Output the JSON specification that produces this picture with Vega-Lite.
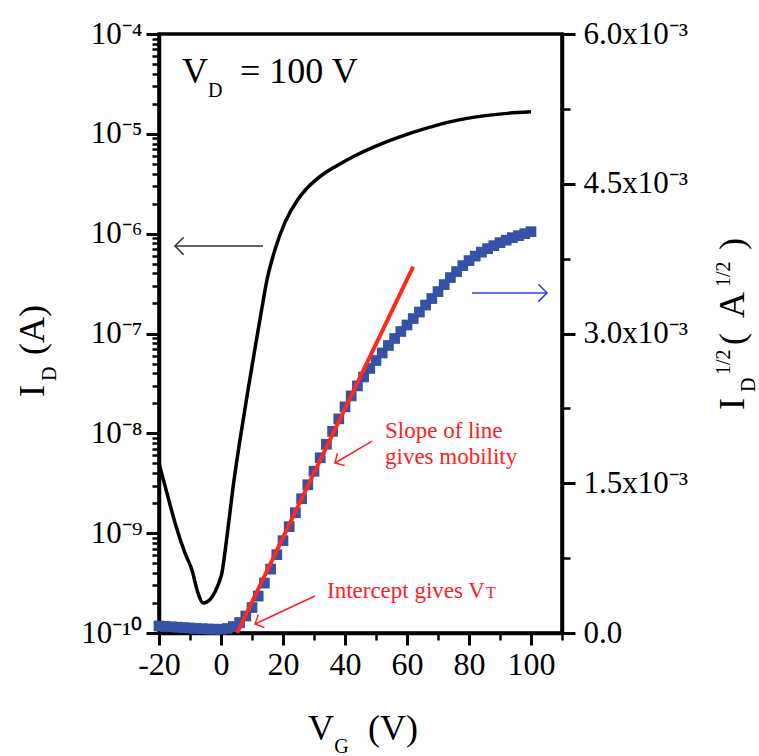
{
  "$schema": "https://vega.github.io/schema/vega-lite/v6.json",
  "width": 403,
  "height": 599,
  "autosize": {"type": "none"},
  "padding": {"left": 159, "top": 34, "right": 197, "bottom": 123},
  "background": "white",
  "config": {
    "font": "Liberation Serif",
    "view": {"stroke": "black", "strokeWidth": 3.5},
    "axis": {
      "grid": false,
      "domainColor": "black",
      "domainWidth": 3.5,
      "tickColor": "black",
      "tickWidth": 3,
      "labelColor": "black",
      "labelFont": "Liberation Serif",
      "labelFontSize": 31,
      "labelFlush": false,
      "labelOverlap": false
    }
  },
  "datasets": {
    "id_log": [
      {"vg": -20, "id": 5.0e-9},
      {"vg": -17.1, "id": 2.3e-9},
      {"vg": -14.8, "id": 1.26e-9},
      {"vg": -11.6, "id": 6.3e-10},
      {"vg": -9.4, "id": 4.3e-10},
      {"vg": -7.4, "id": 2.5e-10},
      {"vg": -5.8, "id": 2.0e-10},
      {"vg": -4.5, "id": 2.05e-10},
      {"vg": -2.9, "id": 2.3e-10},
      {"vg": -1.0, "id": 3.0e-10},
      {"vg": 0.3, "id": 4.0e-10},
      {"vg": 1.9, "id": 9.1e-10},
      {"vg": 3.9, "id": 2.9e-9},
      {"vg": 6.1, "id": 8.5e-9},
      {"vg": 8.7, "id": 2.7e-8},
      {"vg": 11.0, "id": 7.2e-8},
      {"vg": 13.2, "id": 1.8e-7},
      {"vg": 14.8, "id": 3.4e-7},
      {"vg": 17.4, "id": 6.9e-7},
      {"vg": 20.6, "id": 1.29e-6},
      {"vg": 24.8, "id": 2.2e-6},
      {"vg": 27.5, "id": 2.8e-6},
      {"vg": 30.3, "id": 3.4e-6},
      {"vg": 33.5, "id": 4.05e-6},
      {"vg": 36.8, "id": 4.68e-6},
      {"vg": 43.2, "id": 6.03e-6},
      {"vg": 49.0, "id": 7.33e-6},
      {"vg": 55.0, "id": 8.71e-6},
      {"vg": 60.0, "id": 9.89e-6},
      {"vg": 65.0, "id": 1.109e-5},
      {"vg": 70.6, "id": 1.245e-5},
      {"vg": 76.0, "id": 1.365e-5},
      {"vg": 81.3, "id": 1.462e-5},
      {"vg": 86.0, "id": 1.531e-5},
      {"vg": 92.3, "id": 1.603e-5},
      {"vg": 100, "id": 1.66e-5}
    ],
    "sqrt_id": [
      {"vg": -20, "sqrt_id": 0.000070},
      {"vg": -18, "sqrt_id": 0.000066},
      {"vg": -16, "sqrt_id": 0.000062},
      {"vg": -14, "sqrt_id": 0.000058},
      {"vg": -12, "sqrt_id": 0.000054},
      {"vg": -10, "sqrt_id": 0.000050},
      {"vg": -8, "sqrt_id": 0.000046},
      {"vg": -6, "sqrt_id": 0.000043},
      {"vg": -4, "sqrt_id": 0.000040},
      {"vg": -2, "sqrt_id": 0.000038},
      {"vg": 0, "sqrt_id": 0.000037},
      {"vg": 2, "sqrt_id": 0.000045},
      {"vg": 4, "sqrt_id": 0.000065},
      {"vg": 6, "sqrt_id": 0.000105},
      {"vg": 8, "sqrt_id": 0.000170},
      {"vg": 10, "sqrt_id": 0.000255},
      {"vg": 12, "sqrt_id": 0.000370},
      {"vg": 14, "sqrt_id": 0.000500},
      {"vg": 16, "sqrt_id": 0.000640},
      {"vg": 18, "sqrt_id": 0.000785},
      {"vg": 20, "sqrt_id": 0.000925},
      {"vg": 22, "sqrt_id": 0.001065},
      {"vg": 24, "sqrt_id": 0.001205},
      {"vg": 26, "sqrt_id": 0.001345},
      {"vg": 28, "sqrt_id": 0.001485},
      {"vg": 30, "sqrt_id": 0.001620},
      {"vg": 32, "sqrt_id": 0.001755},
      {"vg": 34, "sqrt_id": 0.001890},
      {"vg": 36, "sqrt_id": 0.002020},
      {"vg": 38, "sqrt_id": 0.002145},
      {"vg": 40, "sqrt_id": 0.002265},
      {"vg": 42, "sqrt_id": 0.002375},
      {"vg": 44, "sqrt_id": 0.002475},
      {"vg": 46, "sqrt_id": 0.002565},
      {"vg": 48, "sqrt_id": 0.002650},
      {"vg": 50, "sqrt_id": 0.002730},
      {"vg": 52, "sqrt_id": 0.002805},
      {"vg": 54, "sqrt_id": 0.002880},
      {"vg": 56, "sqrt_id": 0.002950},
      {"vg": 58, "sqrt_id": 0.003020},
      {"vg": 60, "sqrt_id": 0.003085},
      {"vg": 62, "sqrt_id": 0.003150},
      {"vg": 64, "sqrt_id": 0.003215},
      {"vg": 66, "sqrt_id": 0.003285},
      {"vg": 68, "sqrt_id": 0.003350},
      {"vg": 70, "sqrt_id": 0.003420},
      {"vg": 72, "sqrt_id": 0.003490},
      {"vg": 74, "sqrt_id": 0.003560},
      {"vg": 76, "sqrt_id": 0.003620},
      {"vg": 78, "sqrt_id": 0.003680},
      {"vg": 80, "sqrt_id": 0.003730},
      {"vg": 82, "sqrt_id": 0.003775},
      {"vg": 84, "sqrt_id": 0.003815},
      {"vg": 86, "sqrt_id": 0.003850},
      {"vg": 88, "sqrt_id": 0.003880},
      {"vg": 90, "sqrt_id": 0.003910},
      {"vg": 92, "sqrt_id": 0.003935},
      {"vg": 94, "sqrt_id": 0.003960},
      {"vg": 96, "sqrt_id": 0.003980},
      {"vg": 98, "sqrt_id": 0.004000},
      {"vg": 100, "sqrt_id": 0.004020}
    ],
    "fit": [
      {"vg": 5.2, "sqrt_id": 0},
      {"vg": 62.0, "sqrt_id": 0.00367}
    ],
    "arrows": [
      {"arrow": "id", "vg": 13.55, "y": 0.003877, "vg2": -14.84, "y2": 0.003877},
      {"arrow": "sqrt", "vg": 80.97, "y": 0.003406, "vg2": 105.16, "y2": 0.003406},
      {"arrow": "slope", "vg": 48.71, "y": 0.001923, "vg2": 36.77, "y2": 0.001703},
      {"arrow": "vt", "vg": 30.32, "y": 0.000371, "vg2": 10.97, "y2": 0.000090}
    ],
    "text_big": [
      {"vg": -12.58, "y": 0.005509, "label": "V"},
      {"vg": 6.13, "y": 0.005509, "label": "= 100 V"},
      {"vg": 28.06, "y": -0.001072, "label": "V"},
      {"vg": 47.4, "y": -0.001072, "label": "(V)"}
    ],
    "text_small": [
      {"vg": -4.19, "y": 0.005369, "label": "D"},
      {"vg": 36.5, "y": -0.001202, "label": "G"}
    ],
    "text_rot_big": [
      {"vg": -57.1, "y": 0.002364, "label": "I"},
      {"vg": -57.1, "y": 0.002785, "label": "(A)"},
      {"vg": 168.7, "y": 0.002234, "label": "I"},
      {"vg": 168.7, "y": 0.002885, "label": "("},
      {"vg": 168.7, "y": 0.003155, "label": "A"},
      {"vg": 168.7, "y": 0.003837, "label": ")"}
    ],
    "text_rot_small": [
      {"vg": -53.2, "y": 0.002524, "label": "D"},
      {"vg": 172.3, "y": 0.002414, "label": "D"},
      {"vg": 164.2, "y": 0.002584, "label": "1/2"},
      {"vg": 164.2, "y": 0.003466, "label": "1/2"}
    ],
    "text_red": [
      {"vg": 52.9, "y": 0.001953, "label": "Slope of line"},
      {"vg": 52.9, "y": 0.001693, "label": "gives mobility"},
      {"vg": 34.19, "y": 0.000351, "label": "Intercept gives V"}
    ],
    "text_red_small": [
      {"vg": 85.5, "y": 0.000351, "label": "T"}
    ]
  },
  "layer": [
    {
      "data": {"name": "id_log"},
      "layer": [
        {
          "mark": {"type": "line", "color": "black", "strokeWidth": 3.5, "interpolate": "monotone"},
          "encoding": {
            "x": {
              "field": "vg", "type": "quantitative",
              "scale": {"domain": [-20, 110], "nice": false, "zero": false},
              "axis": {
                "title": null,
                "orient": "bottom",
                "values": [-20, 0, 20, 40, 60, 80, 100],
                "labelExpr": "datum.value < 0 ? '-' + format(-datum.value, 'd') : format(datum.value, 'd')",
                "tickSize": 12,
                "labelPadding": 4,
                "labelFontSize": 32
              }
            },
            "y": {
              "field": "id", "type": "quantitative",
              "scale": {"type": "log", "domain": [1e-10, 1e-4], "nice": false},
              "axis": {
                "title": null,
                "orient": "left",
                "values": [1e-10, 1e-9, 1e-8, 1e-7, 1e-6, 1e-5, 1e-4],
                "labelExpr": "datum.value == 1e-4 ? '10⁻⁴' : datum.value == 1e-5 ? '10⁻⁵' : datum.value == 1e-6 ? '10⁻⁶' : datum.value == 1e-7 ? '10⁻⁷' : datum.value == 1e-8 ? '10⁻⁸' : datum.value == 1e-9 ? '10⁻⁹' : '10⁻¹⁰'",
                "tickSize": 13,
                "labelPadding": 4
              }
            }
          }
        },
        {
          "mark": {"type": "line", "strokeOpacity": 0, "color": "black"},
          "encoding": {
            "x": {
              "field": "vg", "type": "quantitative",
              "scale": {"domain": [-20, 110], "nice": false, "zero": false},
              "axis": {
                "title": null,
                "orient": "bottom",
                "values": [-10, 10, 30, 50, 70, 90, 110],
                "labels": false,
                "domain": false,
                "tickSize": 7,
                "tickWidth": 2.5
              }
            },
            "y": {
              "field": "id", "type": "quantitative",
              "scale": {"type": "log", "domain": [1e-10, 1e-4], "nice": false},
              "axis": {
                "title": null,
                "orient": "left",
                "values": [2e-10, 3e-10, 4e-10, 5e-10, 6e-10, 7e-10, 8e-10, 9e-10,
                           2e-9, 3e-9, 4e-9, 5e-9, 6e-9, 7e-9, 8e-9, 9e-9,
                           2e-8, 3e-8, 4e-8, 5e-8, 6e-8, 7e-8, 8e-8, 9e-8,
                           2e-7, 3e-7, 4e-7, 5e-7, 6e-7, 7e-7, 8e-7, 9e-7,
                           2e-6, 3e-6, 4e-6, 5e-6, 6e-6, 7e-6, 8e-6, 9e-6,
                           2e-5, 3e-5, 4e-5, 5e-5, 6e-5, 7e-5, 8e-5, 9e-5],
                "labels": false,
                "domain": false,
                "tickSize": 7,
                "tickWidth": 2.5
              }
            }
          }
        }
      ],
      "resolve": {"axis": {"x": "independent", "y": "independent"}}
    },
    {
      "layer": [
        {
          "data": {"name": "sqrt_id"},
          "mark": {"type": "square", "color": "#3652a6", "opacity": 1, "size": 115},
          "encoding": {
            "x": {"field": "vg", "type": "quantitative", "scale": {"domain": [-20, 110], "nice": false, "zero": false}, "axis": null},
            "y": {
              "field": "sqrt_id", "type": "quantitative",
              "scale": {"domain": [0, 0.006], "nice": false, "zero": false},
              "axis": {
                "title": null,
                "orient": "right",
                "values": [0, 0.0015, 0.003, 0.0045, 0.006],
                "labelExpr": "datum.value == 0 ? '0.0' : format(datum.value * 1000, '.1f') + 'x10⁻³'",
                "tickSize": 13,
                "labelPadding": 8
              }
            }
          }
        },
        {
          "data": {"name": "fit"},
          "mark": {"type": "line", "color": "#ff2a1f", "strokeWidth": 4},
          "encoding": {
            "x": {"field": "vg", "type": "quantitative", "scale": {"domain": [-20, 110], "nice": false, "zero": false}, "axis": null},
            "y": {
              "field": "sqrt_id", "type": "quantitative",
              "scale": {"domain": [0, 0.006], "nice": false, "zero": false},
              "axis": {
                "title": null,
                "orient": "right",
                "values": [0.00075, 0.00225, 0.00375, 0.00525],
                "labels": false,
                "domain": false,
                "tickSize": 8,
                "tickWidth": 2.5
              }
            }
          }
        },
        {
          "data": {"name": "arrows"},
          "mark": {"type": "rule", "strokeWidth": 1.5},
          "encoding": {
            "x": {"field": "vg", "type": "quantitative", "scale": {"domain": [-20, 110], "nice": false, "zero": false}, "axis": null},
            "y": {"field": "y", "type": "quantitative", "scale": {"domain": [0, 0.006], "nice": false, "zero": false}, "axis": null},
            "x2": {"field": "vg2"},
            "y2": {"field": "y2"},
            "color": {"field": "arrow", "type": "nominal", "scale": {"domain": ["id", "sqrt", "slope", "vt"], "range": ["#333333", "#2b3cf0", "#ff2020", "#ff2020"]}, "legend": null}
          }
        },
        {
          "data": {"name": "arrows"},
          "transform": [{"filter": "datum.arrow == 'id'"}],
          "mark": {"type": "point", "shape": "M -1 -1 L 0 0 L -1 1", "filled": false, "color": "#333333", "strokeWidth": 1.5, "size": 300, "angle": 180, "opacity": 1},
          "encoding": {
            "x": {"field": "vg2", "type": "quantitative", "scale": {"domain": [-20, 110], "nice": false, "zero": false}, "axis": null},
            "y": {"field": "y2", "type": "quantitative", "scale": {"domain": [0, 0.006], "nice": false, "zero": false}, "axis": null}
          }
        },
        {
          "data": {"name": "arrows"},
          "transform": [{"filter": "datum.arrow == 'sqrt'"}],
          "mark": {"type": "point", "shape": "M -1 -1 L 0 0 L -1 1", "filled": false, "color": "#2b3cf0", "strokeWidth": 1.5, "size": 300, "angle": 0, "opacity": 1},
          "encoding": {
            "x": {"field": "vg2", "type": "quantitative", "scale": {"domain": [-20, 110], "nice": false, "zero": false}, "axis": null},
            "y": {"field": "y2", "type": "quantitative", "scale": {"domain": [0, 0.006], "nice": false, "zero": false}, "axis": null}
          }
        },
        {
          "data": {"name": "arrows"},
          "transform": [{"filter": "datum.arrow == 'slope'"}],
          "mark": {"type": "point", "shape": "M -1 -1 L 0 0 L -1 1", "filled": false, "color": "#ff2020", "strokeWidth": 1.5, "size": 200, "angle": 149, "opacity": 1},
          "encoding": {
            "x": {"field": "vg2", "type": "quantitative", "scale": {"domain": [-20, 110], "nice": false, "zero": false}, "axis": null},
            "y": {"field": "y2", "type": "quantitative", "scale": {"domain": [0, 0.006], "nice": false, "zero": false}, "axis": null}
          }
        },
        {
          "data": {"name": "arrows"},
          "transform": [{"filter": "datum.arrow == 'vt'"}],
          "mark": {"type": "point", "shape": "M -1 -1 L 0 0 L -1 1", "filled": false, "color": "#ff2020", "strokeWidth": 1.5, "size": 200, "angle": 155, "opacity": 1},
          "encoding": {
            "x": {"field": "vg2", "type": "quantitative", "scale": {"domain": [-20, 110], "nice": false, "zero": false}, "axis": null},
            "y": {"field": "y2", "type": "quantitative", "scale": {"domain": [0, 0.006], "nice": false, "zero": false}, "axis": null}
          }
        },
        {
          "data": {"name": "text_big"},
          "mark": {"type": "text", "fontSize": 36, "color": "black", "align": "left", "baseline": "alphabetic"},
          "encoding": {
            "x": {"field": "vg", "type": "quantitative", "scale": {"domain": [-20, 110], "nice": false, "zero": false}, "axis": null},
            "y": {"field": "y", "type": "quantitative", "scale": {"domain": [0, 0.006], "nice": false, "zero": false}, "axis": null},
            "text": {"field": "label"}
          }
        },
        {
          "data": {"name": "text_small"},
          "mark": {"type": "text", "fontSize": 20, "color": "black", "align": "left", "baseline": "alphabetic"},
          "encoding": {
            "x": {"field": "vg", "type": "quantitative", "scale": {"domain": [-20, 110], "nice": false, "zero": false}, "axis": null},
            "y": {"field": "y", "type": "quantitative", "scale": {"domain": [0, 0.006], "nice": false, "zero": false}, "axis": null},
            "text": {"field": "label"}
          }
        },
        {
          "data": {"name": "text_rot_big"},
          "mark": {"type": "text", "fontSize": 36, "color": "black", "align": "left", "baseline": "alphabetic", "angle": 270},
          "encoding": {
            "x": {"field": "vg", "type": "quantitative", "scale": {"domain": [-20, 110], "nice": false, "zero": false}, "axis": null},
            "y": {"field": "y", "type": "quantitative", "scale": {"domain": [0, 0.006], "nice": false, "zero": false}, "axis": null},
            "text": {"field": "label"}
          }
        },
        {
          "data": {"name": "text_rot_small"},
          "mark": {"type": "text", "fontSize": 20, "color": "black", "align": "left", "baseline": "alphabetic", "angle": 270},
          "encoding": {
            "x": {"field": "vg", "type": "quantitative", "scale": {"domain": [-20, 110], "nice": false, "zero": false}, "axis": null},
            "y": {"field": "y", "type": "quantitative", "scale": {"domain": [0, 0.006], "nice": false, "zero": false}, "axis": null},
            "text": {"field": "label"}
          }
        },
        {
          "data": {"name": "text_red"},
          "mark": {"type": "text", "fontSize": 23, "color": "#ff2020", "align": "left", "baseline": "alphabetic"},
          "encoding": {
            "x": {"field": "vg", "type": "quantitative", "scale": {"domain": [-20, 110], "nice": false, "zero": false}, "axis": null},
            "y": {"field": "y", "type": "quantitative", "scale": {"domain": [0, 0.006], "nice": false, "zero": false}, "axis": null},
            "text": {"field": "label"}
          }
        },
        {
          "data": {"name": "text_red_small"},
          "mark": {"type": "text", "fontSize": 16, "color": "#ff2020", "align": "left", "baseline": "alphabetic"},
          "encoding": {
            "x": {"field": "vg", "type": "quantitative", "scale": {"domain": [-20, 110], "nice": false, "zero": false}, "axis": null},
            "y": {"field": "y", "type": "quantitative", "scale": {"domain": [0, 0.006], "nice": false, "zero": false}, "axis": null},
            "text": {"field": "label"}
          }
        }
      ],
      "resolve": {"axis": {"y": "independent"}}
    }
  ],
  "resolve": {"scale": {"y": "independent"}, "axis": {"x": "independent"}}
}
